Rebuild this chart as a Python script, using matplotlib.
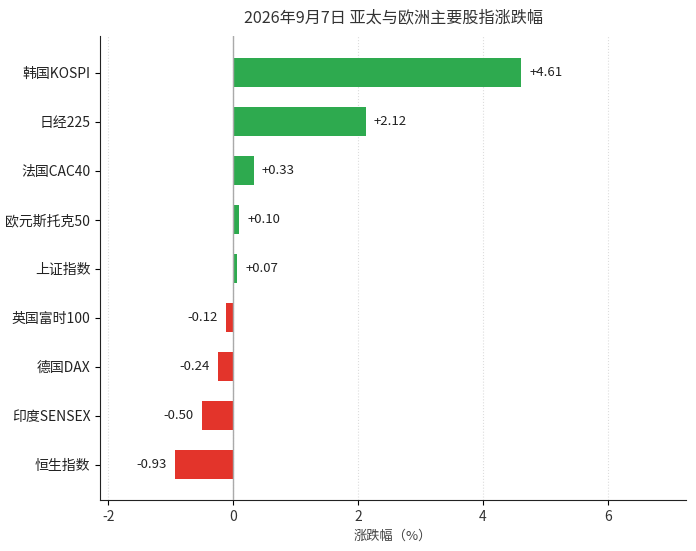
import matplotlib.pyplot as plt

plt.rcParams['font.family'] = ['Noto Sans CJK SC', 'DejaVu Sans']
plt.rcParams['axes.unicode_minus'] = False

indices = ['韩国KOSPI', '日经225', '法国CAC40', '欧元斯托克50', '上证指数',
           '英国富时100', '德国DAX', '印度SENSEX', '恒生指数']
changes = [4.61, 2.12, 0.33, 0.10, 0.07, -0.12, -0.24, -0.50, -0.93]
xticks = [-2, 0, 2, 4, 6]

green = '#2eaa4f'
red = '#e3342b'

fig = plt.figure(figsize=(6.96, 5.51), dpi=100)
ax = fig.add_axes([0.1437, 0.0926, 0.842, 0.842])

ypos = list(range(len(indices)))[::-1]
colors = [green if v >= 0 else red for v in changes]
ax.barh(ypos, changes, height=0.6, color=colors, zorder=3)

for y, v in zip(ypos, changes):
    txt = f'+{v:.2f}' if v >= 0 else f'{v:.2f}'
    if v >= 0:
        ax.text(v + 0.13, y, txt, va='center', ha='left', fontsize=9.5, color='#222222')
    else:
        ax.text(v - 0.13, y, txt, va='center', ha='right', fontsize=9.5, color='#222222')

ax.axvline(0, color='#aaaaaa', lw=1, zorder=4)
ax.set_xlim(-2.13, 7.25)
ax.set_ylim(-0.72, 8.75)
ax.set_xticks(xticks)
ax.set_xticklabels([str(t) for t in xticks], fontsize=10, color='#333333')
ax.set_yticks(ypos)
ax.set_yticklabels(indices, fontsize=10, color='#222222')
ax.grid(axis='x', linestyle=':', color='#dddddd', lw=0.8, zorder=0)
ax.spines['top'].set_visible(False)
ax.spines['right'].set_visible(False)
ax.spines['left'].set_color('#222222')
ax.spines['bottom'].set_color('#222222')
ax.set_xlabel('涨跌幅（%）', fontsize=9.5, color='#444444', labelpad=4)
fig.suptitle('2026年9月7日 亚太与欧洲主要股指涨跌幅', fontsize=11.6, y=0.983, x=0.566,
             color='#333333')

fig.savefig('out.png', dpi=100)
